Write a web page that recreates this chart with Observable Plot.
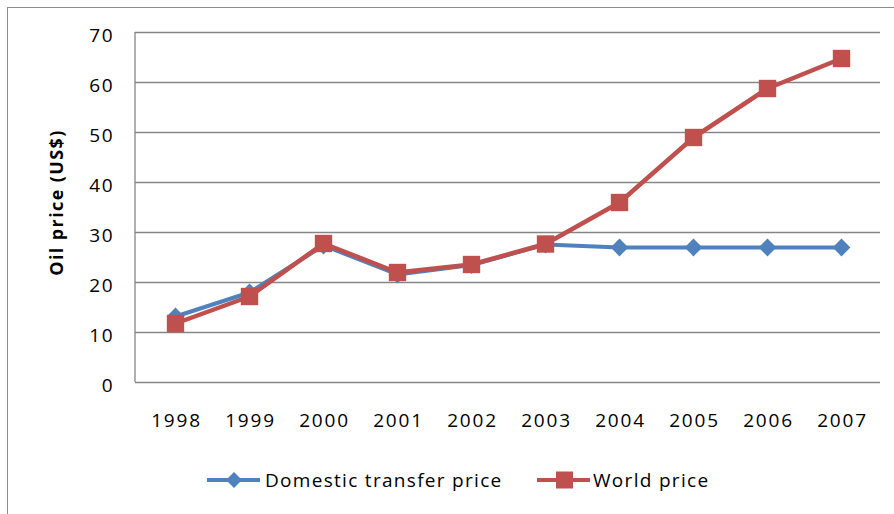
<!DOCTYPE html>
<html><head><meta charset="utf-8">
<script src="https://cdn.jsdelivr.net/npm/d3@7"></script>
<script src="https://cdn.jsdelivr.net/npm/@observablehq/plot@0.6"></script>
<style>
html,body{margin:0;padding:0;background:#fff;}
body{width:894px;height:514px;overflow:hidden;position:relative;font-family:"Open Sans",sans-serif;}
#frame{position:absolute;left:7px;top:7px;width:920px;height:540px;border-left:1.5px solid #8c8c8c;border-top:1.5px solid #8c8c8c;}
#chart{position:absolute;left:0;top:0;}
#legend{position:absolute;top:468px;left:0;width:894px;height:24px;font-size:19px;letter-spacing:1.3px;color:#000;}
.item{position:absolute;top:0;display:flex;align-items:center;height:24px;white-space:nowrap;}
</style></head><body>
<div id="frame"></div>
<div id="chart"></div>
<div id="legend"></div>
<script>
const years = ["1998","1999","2000","2001","2002","2003","2004","2005","2006","2007"];
const domestic = [13.2, 18.0, 27.4, 21.6, 23.5, 27.6, 27.0, 27.0, 27.0, 27.0];
const world = [11.8, 17.2, 27.8, 22.0, 23.6, 27.7, 36.0, 49.0, 58.8, 64.8];
const yTicks = [0, 10, 20, 30, 40, 50, 60, 70];
const seriesNames = ["Domestic transfer price", "World price"];
const seriesColors = ["#4F81BD", "#C0504D"];
const yLabel = "Oil price (US$)";

const table = years.map((year, i) => ({year, domestic: domestic[i], world: world[i]}));
const axisColor = "#868686";

const leftLine = (index, scales, values, dims) => {
  return d3.create("svg:line")
    .attr("x1", dims.marginLeft).attr("x2", dims.marginLeft)
    .attr("y1", dims.marginTop).attr("y2", dims.height - dims.marginBottom)
    .attr("stroke", axisColor).attr("stroke-width", 1.3)
    .node();
};

const chart = Plot.plot({
  width: 894,
  height: 460,
  marginLeft: 135,
  marginRight: 14,
  marginTop: 32,
  marginBottom: 78,
  style: {background: "transparent", fontFamily: "'Open Sans', sans-serif", color: "#000"},
  x: {type: "point", domain: years, padding: 0.5},
  y: {domain: [0, 70]},
  marks: [
    Plot.ruleY(yTicks, {stroke: axisColor, strokeWidth: 1.3}),
    leftLine,
    Plot.axisY({ticks: yTicks, tickSize: 0, tickPadding: 21, fontSize: 19, dy: 3, label: null, fill: "#000"}),
    Plot.axisX({tickSize: 0, tickPadding: 31, fontSize: 19, dx: 1, label: null, fill: "#000"}),
    Plot.text([yLabel], {text: d => d, frameAnchor: "left", textAnchor: "middle", rotate: -90, dx: -78.5, dy: -5, fontWeight: "bold", fontSize: 18, fill: "#000"}),
    Plot.line(table, {x: "year", y: "domestic", stroke: seriesColors[0], strokeWidth: 4}),
    Plot.dot(table, {x: "year", y: "domestic", symbol: "diamond2", r: 8, fill: seriesColors[0], stroke: "none"}),
    Plot.line(table, {x: "year", y: "world", stroke: seriesColors[1], strokeWidth: 4.5}),
    Plot.dot(table, {x: "year", y: "world", symbol: "square", r: 9.8, fill: seriesColors[1], stroke: "none"})
  ]
});
chart.querySelectorAll("g[aria-label='y-axis tick label'] text, g[aria-label='x-axis tick label'] text").forEach(t => t.style.letterSpacing = "1.8px");
chart.querySelectorAll("g[aria-label='text'] text").forEach(t => t.style.letterSpacing = "1.4px");
document.getElementById("chart").appendChild(chart);

// legend
const legend = document.getElementById("legend");
const legendLeft = [207, 537];
const legendGap = [5, 3];
const legendSymbols = ["diamond", "square"];
seriesNames.forEach((name, i) => {
  const item = document.createElement("div");
  item.className = "item";
  item.style.left = legendLeft[i] + "px";
  const c = seriesColors[i];
  const sym = legendSymbols[i] === "diamond"
    ? `<polygon points="27,4 35,12 27,20 19,12" fill="${c}"/>`
    : `<rect x="19" y="3.5" width="17" height="17" fill="${c}"/>`;
  item.innerHTML = `<svg width="53" height="24" style="margin-right:${legendGap[i]}px"><line x1="0" x2="53" y1="12" y2="12" stroke="${c}" stroke-width="4"/>${sym}</svg><span>${name}</span>`;
  legend.appendChild(item);
});
</script>
</body></html>
